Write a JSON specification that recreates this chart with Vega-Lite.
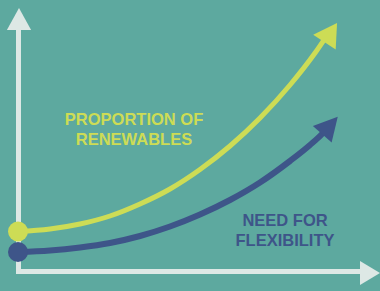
{
  "$schema": "https://vega.github.io/schema/vega-lite/v6.json",
  "width": 380,
  "height": 291,
  "autosize": {"type": "fit", "contains": "padding"},
  "padding": 0,
  "background": "#5DA99F",
  "config": {"view": {"stroke": null}},
  "datasets": {
    "axes": [
      {"part": "y", "x": 18.5, "y": 17, "x2": 18.5, "y2": 263},
      {"part": "x", "x": 16, "y": 19.5, "x2": 362, "y2": 19.5}
    ],
    "axisHeadY": [{"x": 19, "y": 272}],
    "axisHeadX": [{"x": 370, "y": 18}],
    "curves": [
      {"series": "renewables", "x": 18, "y": 59.5},
      {"series": "renewables", "x": 50, "y": 62},
      {"series": "renewables", "x": 80, "y": 67},
      {"series": "renewables", "x": 110, "y": 75},
      {"series": "renewables", "x": 140, "y": 87},
      {"series": "renewables", "x": 170, "y": 102},
      {"series": "renewables", "x": 200, "y": 121.5},
      {"series": "renewables", "x": 230, "y": 145},
      {"series": "renewables", "x": 260, "y": 173},
      {"series": "renewables", "x": 290, "y": 206},
      {"series": "renewables", "x": 315, "y": 238},
      {"series": "renewables", "x": 326, "y": 254},
      {"series": "flexibility", "x": 18, "y": 39},
      {"series": "flexibility", "x": 50, "y": 40.5},
      {"series": "flexibility", "x": 80, "y": 43.5},
      {"series": "flexibility", "x": 110, "y": 48},
      {"series": "flexibility", "x": 140, "y": 55},
      {"series": "flexibility", "x": 170, "y": 64.5},
      {"series": "flexibility", "x": 200, "y": 76.5},
      {"series": "flexibility", "x": 230, "y": 91},
      {"series": "flexibility", "x": 260, "y": 108.5},
      {"series": "flexibility", "x": 290, "y": 130},
      {"series": "flexibility", "x": 310, "y": 146},
      {"series": "flexibility", "x": 322, "y": 157},
      {"series": "flexibility", "x": 329, "y": 165}
    ],
    "starts": [
      {"series": "renewables", "x": 18, "y": 59.5},
      {"series": "flexibility", "x": 18, "y": 39}
    ],
    "headRenew": [{"series": "renewables", "x": 330.75, "y": 258.5}],
    "headFlex": [{"series": "flexibility", "x": 330, "y": 165.5}],
    "labels": [
      {"series": "renewables", "x": 134, "y": 166, "text": "PROPORTION OF\nRENEWABLES"},
      {"series": "flexibility", "x": 285, "y": 65, "text": "NEED FOR\nFLEXIBILITY"}
    ]
  },
  "layer": [
    {
      "data": {"name": "axes"},
      "mark": {"type": "rule", "stroke": "#DDE8E5", "strokeWidth": 5, "strokeCap": "butt"},
      "encoding": {
        "x": {"field": "x", "type": "quantitative", "scale": {"domain": [0, 380], "nice": false, "zero": false}, "axis": null},
        "y": {"field": "y", "type": "quantitative", "scale": {"domain": [0, 291], "nice": false, "zero": false}, "axis": null},
        "x2": {"field": "x2"},
        "y2": {"field": "y2"}
      }
    },
    {
      "data": {"name": "axisHeadY"},
      "mark": {"type": "point", "shape": "M0,-1L-1.1,1L1.1,1Z", "filled": true, "opacity": 1, "color": "#DDE8E5", "size": 484, "angle": 0, "strokeWidth": 0},
      "encoding": {
        "x": {"field": "x", "type": "quantitative"},
        "y": {"field": "y", "type": "quantitative"}
      }
    },
    {
      "data": {"name": "axisHeadX"},
      "mark": {"type": "point", "shape": "M0,-1L-1.2,1L1.2,1Z", "filled": true, "opacity": 1, "color": "#DDE8E5", "size": 400, "angle": 90, "strokeWidth": 0},
      "encoding": {
        "x": {"field": "x", "type": "quantitative"},
        "y": {"field": "y", "type": "quantitative"}
      }
    },
    {
      "data": {"name": "curves"},
      "mark": {"type": "line", "interpolate": "monotone", "strokeCap": "butt"},
      "encoding": {
        "x": {"field": "x", "type": "quantitative"},
        "y": {"field": "y", "type": "quantitative"},
        "color": {"field": "series", "type": "nominal", "scale": {"domain": ["renewables", "flexibility"], "range": ["#CDDC55", "#3E5589"]}, "legend": null},
        "strokeWidth": {"field": "series", "type": "nominal", "scale": {"domain": ["renewables", "flexibility"], "range": [5, 6]}, "legend": null}
      }
    },
    {
      "data": {"name": "starts"},
      "mark": {"type": "point", "shape": "circle", "filled": true, "opacity": 1, "size": 400, "strokeWidth": 0},
      "encoding": {
        "x": {"field": "x", "type": "quantitative"},
        "y": {"field": "y", "type": "quantitative"},
        "color": {"field": "series", "type": "nominal", "legend": null}
      }
    },
    {
      "data": {"name": "headRenew"},
      "mark": {"type": "point", "shape": "M0,-1L-1.17,1L1.17,1Z", "filled": true, "opacity": 1, "size": 529, "angle": 33.3, "strokeWidth": 0},
      "encoding": {
        "x": {"field": "x", "type": "quantitative"},
        "y": {"field": "y", "type": "quantitative"},
        "color": {"field": "series", "type": "nominal", "legend": null}
      }
    },
    {
      "data": {"name": "headFlex"},
      "mark": {"type": "point", "shape": "M0,-1L-1.07,1L1.07,1Z", "filled": true, "opacity": 1, "size": 548, "angle": 41.5, "strokeWidth": 0},
      "encoding": {
        "x": {"field": "x", "type": "quantitative"},
        "y": {"field": "y", "type": "quantitative"},
        "color": {"field": "series", "type": "nominal", "legend": null}
      }
    },
    {
      "data": {"name": "labels"},
      "mark": {"type": "text", "align": "center", "baseline": "alphabetic", "font": "Liberation Sans", "fontSize": 16.5, "fontWeight": "bold", "lineBreak": "\n", "lineHeight": 20},
      "encoding": {
        "x": {"field": "x", "type": "quantitative"},
        "y": {"field": "y", "type": "quantitative"},
        "text": {"field": "text"},
        "color": {"field": "series", "type": "nominal", "legend": null}
      }
    }
  ]
}
